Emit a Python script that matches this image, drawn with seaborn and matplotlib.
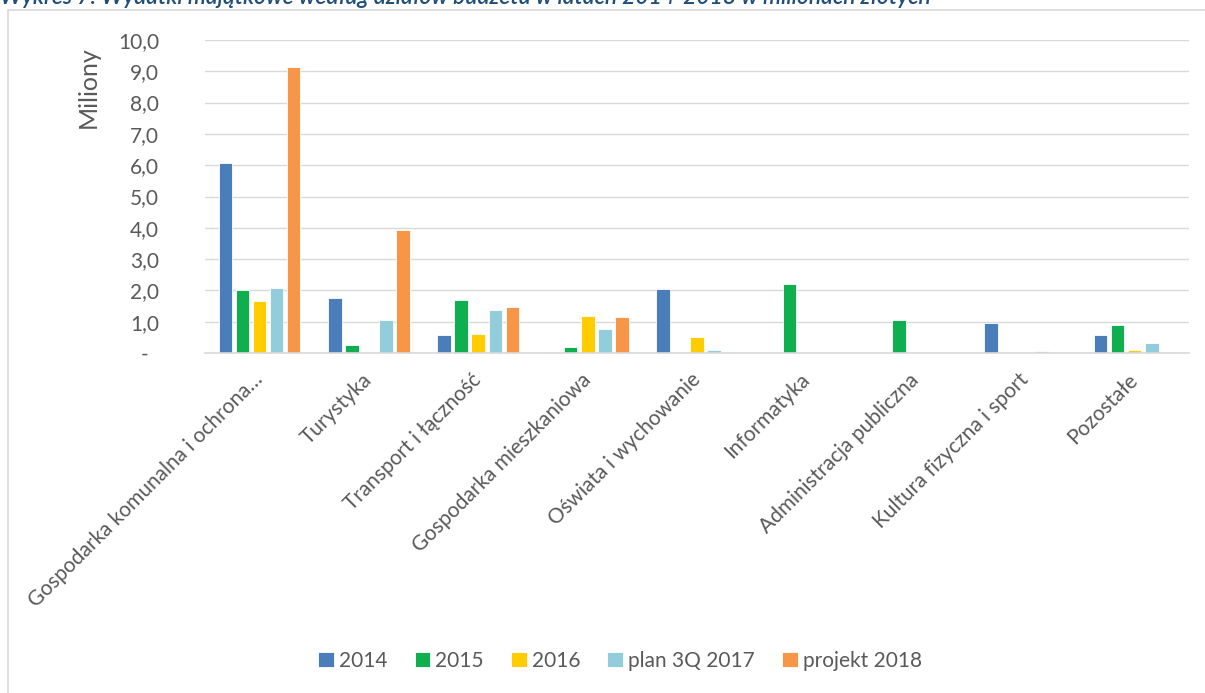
import pandas as pd
import seaborn as sns
import matplotlib.pyplot as plt
from matplotlib.patches import Rectangle
from matplotlib.ticker import FuncFormatter

# dane (mln zl)
dzialy = ['Gospodarka komunalna i ochrona\u2026', 'Turystyka', 'Transport i łączność',
          'Gospodarka mieszkaniowa', 'Oświata i wychowanie', 'Informatyka',
          'Administracja publiczna', 'Kultura fizyczna i sport', 'Pozostałe']
serie = ['2014', '2015', '2016', 'plan 3Q 2017', 'projekt 2018']
v2014 = [6.08, 1.75, 0.59, 0.03, 2.04, 0.0, 0.0, 0.95, 0.58]
v2015 = [2.01, 0.27, 1.68, 0.19, 0.0, 2.21, 1.06, 0.0, 0.88]
v2016 = [1.66, 0.0, 0.61, 1.19, 0.52, 0.0, 0.01, 0.0, 0.11]
v2017 = [2.09, 1.07, 1.37, 0.78, 0.09, 0.0, 0.0, 0.06, 0.32]
v2018 = [9.15, 3.93, 1.48, 1.16, 0.03, 0.0, 0.0, 0.0, 0.04]
kolory = ['#4A7EBB', '#0FAF50', '#FFCC00', '#92CDDC', '#F79646']

rows = []
for s, vals in zip(serie, [v2014, v2015, v2016, v2017, v2018]):
    for d, v in zip(dzialy, vals):
        rows.append({'dzial': d, 'seria': s, 'wartosc': v})
df = pd.DataFrame(rows)

sns.set_style('white')
plt.rcParams['font.family'] = ['Lato', 'DejaVu Sans']
szary = '#595959'

fig = plt.figure(figsize=(12.05, 6.93), dpi=100)
ax = fig.add_axes([0.170, 0.4906, 0.817, 0.4517])

sns.barplot(data=df, x='dzial', y='wartosc', hue='seria', order=dzialy,
            hue_order=serie, palette=kolory, width=0.78, gap=0.2,
            edgecolor='white', linewidth=0.6, saturation=1, ax=ax)

ax.set_ylim(0, 10)
ax.set_yticks(range(0, 11))
ax.yaxis.set_major_formatter(FuncFormatter(
    lambda v, p: '-  ' if v == 0 else f'{v:.1f}'.replace('.', ',')))
ax.grid(axis='y', color='#D9D9D9', linewidth=1)
ax.set_axisbelow(True)
for side in ['top', 'right', 'left']:
    ax.spines[side].set_visible(False)
ax.spines['bottom'].set_color('#D9D9D9')
ax.spines['bottom'].set_linewidth(1.2)
ax.tick_params(axis='y', length=0, pad=33, labelsize=15, labelcolor=szary)
ax.tick_params(axis='x', length=0, pad=17, labelsize=15, labelcolor=szary)
plt.setp(ax.get_xticklabels(), rotation=45, ha='right', va='center',
         rotation_mode='anchor')
ax.set_xlabel('')
ax.set_ylabel('Miliony', fontsize=18, color=szary)
ax.yaxis.set_label_coords(-0.1066, 0.85)

ax.get_legend().remove()
h, l = ax.get_legend_handles_labels()
fig.legend(h, l, loc='center', bbox_to_anchor=(620 / 1205, 1 - 661 / 693),
           ncol=5, frameon=False, fontsize=15, handlelength=0.75, handleheight=0.75,
           handletextpad=0.25, columnspacing=1.3, labelcolor=szary)

fig.patches.append(Rectangle((8 / 1205, -0.05), 1.2, 1.05 - 10 / 693,
                             transform=fig.transFigure, fill=False,
                             edgecolor='#D9D9D9', linewidth=1.2))
fig.text(0.0, 1 - 4 / 693,
         'Wykres 7: Wydatki majątkowe według działów budżetu w latach 2014-2018 w milionach złotych',
         fontsize=16.4, style='italic', weight='semibold', color='#1F4E79', va='baseline')

plt.savefig('out.png', dpi=100)
